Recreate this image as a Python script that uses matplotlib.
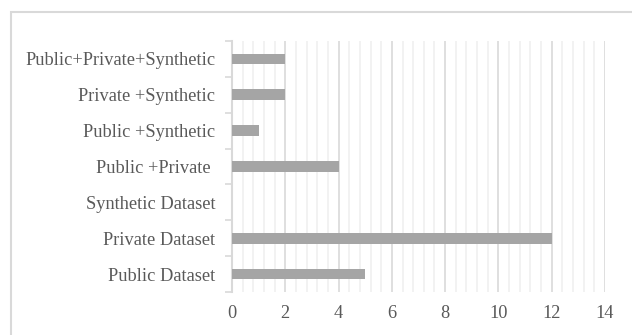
import matplotlib.pyplot as plt
from matplotlib.patches import Rectangle
from matplotlib.ticker import MultipleLocator

categories = ["Public Dataset", "Private Dataset", "Synthetic Dataset",
              "Public +Private ", "Public +Synthetic", "Private +Synthetic",
              "Public+Private+Synthetic"]
counts = [5, 12, 0, 4, 1, 2, 2]
x_ticks = [0, 2, 4, 6, 8, 10, 12, 14]

plt.rcParams['font.family'] = ['Liberation Serif', 'DejaVu Serif']
text_color = '#595959'

fig = plt.figure(figsize=(6.32, 3.35), dpi=100)
W, H = 632, 335
ax = fig.add_axes([232 / W, 1 - 292 / H, (605 - 232) / W, (292 - 41) / H])

# outer chart-area frame
fig.patches.append(Rectangle((11 / W, -0.02), 1.1, 1 - 12 / H + 0.02,
                             transform=fig.transFigure, fill=False,
                             edgecolor='#d9d9d9', linewidth=1.5, zorder=0))

ypos = list(range(len(categories)))
ax.barh(ypos, counts, height=0.3, color='#a5a5a5', zorder=3)

ax.set_xlim(0, 14)
ax.set_ylim(-0.5, len(categories) - 0.5)
ax.set_xticks(x_ticks)
ax.xaxis.set_minor_locator(MultipleLocator(0.4))
ax.grid(axis='x', which='major', color='#d9d9d9', linewidth=1.2, zorder=1)
ax.grid(axis='x', which='minor', color='#f0f0f0', linewidth=1.2, zorder=0)
ax.tick_params(axis='x', which='both', length=0, pad=9, labelsize=13.2,
               labelcolor=text_color)

# category labels with boundary ticks on the value axis
ax.set_yticks(ypos)
ax.set_yticklabels(categories)
ax.tick_params(axis='y', which='major', length=0, pad=12, labelsize=13.2,
               labelcolor=text_color)
ax.set_yticks([i - 0.5 for i in range(len(categories) + 1)], minor=True)
ax.tick_params(axis='y', which='minor', length=5, width=1.2, color='#d9d9d9')

for side in ('top', 'right', 'bottom'):
    ax.spines[side].set_visible(False)
ax.spines['left'].set_color('#d9d9d9')
ax.spines['left'].set_linewidth(1.5)

fig.savefig('out.png', dpi=100)
